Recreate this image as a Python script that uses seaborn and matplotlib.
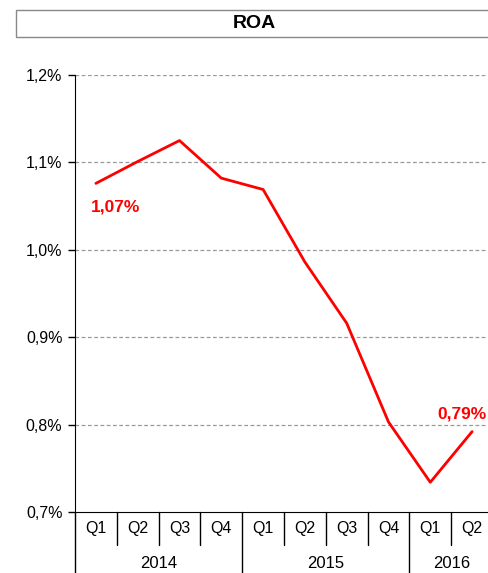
import numpy as np
import matplotlib
matplotlib.use("Agg")
import matplotlib.pyplot as plt
import matplotlib.transforms as mtrans
from matplotlib.patches import Rectangle
import seaborn as sns

# data
quarters = ["Q1", "Q2", "Q3", "Q4", "Q1", "Q2", "Q3", "Q4", "Q1", "Q2"]
years = ["2014", "2015", "2016"]
quarters_per_year = [4, 4, 2]
roa = [1.076, 1.101, 1.125, 1.082, 1.069, 0.986, 0.916, 0.803, 0.734, 0.792]
first_label = "1,07%"
last_label = "0,79%"
yticks = [0.7, 0.8, 0.9, 1.0, 1.1, 1.2]

sns.set_style("white", {"text.color": "black", "axes.labelcolor": "black",
                        "xtick.color": "black", "ytick.color": "black"})
plt.rcParams['font.family'] = ['Liberation Sans', 'DejaVu Sans']

fig = plt.figure(figsize=(4.89, 5.73), dpi=100)
W, H = 489, 573
ax = fig.add_axes([75 / W, 61 / H, 418 / W, 437 / H])

x = np.arange(len(roa))
sns.lineplot(x=x, y=roa, ax=ax, color="#ff0000", linewidth=2)

ax.set_xlim(-0.5, len(roa) - 0.5)
ax.set_ylim(0.7, 1.2)
ax.set_yticks(yticks)
ax.set_yticklabels([f"{v:.1f}%".replace(".", ",") for v in yticks], fontsize=11.5)
ax.tick_params(axis="y", length=5, width=1, direction="out", left=True, pad=4)
ax.set_xticks([])
for v in yticks[1:]:
    ax.axhline(v, color="#999999", linestyle=(0, (3, 2)), linewidth=0.9, zorder=0)

for side in ["top", "right"]:
    ax.spines[side].set_visible(False)
ax.spines["left"].set_color("black")
ax.spines["bottom"].set_color("black")
ax.spines["left"].set_bounds(0.7, 1.2)

# category axis with two levels
trans = mtrans.blended_transform_factory(ax.transData, ax.transAxes)
px = 1 / 437.0
for i, q in enumerate(quarters):
    ax.text(i, -16 * px, q, transform=trans, ha="center", va="center", fontsize=11.5)
ax.plot([-0.5, -0.5], [0, -70 * px], transform=trans, color="black", lw=1, clip_on=False)
bounds = np.cumsum([0] + quarters_per_year) - 0.5
for i in range(1, len(quarters)):
    pos = i - 0.5
    if pos in bounds:
        ax.plot([pos, pos], [0, -70 * px], transform=trans, color="black", lw=1, clip_on=False)
    else:
        ax.plot([pos, pos], [0, -33 * px], transform=trans, color="black", lw=1, clip_on=False)
for j, yr in enumerate(years):
    mid = (bounds[j] + bounds[j + 1]) / 2
    ax.text(mid, -51 * px, yr, transform=trans, ha="center", va="center", fontsize=12)

# value labels
ax.annotate(first_label, (x[0], roa[0]), xytext=(14, -17), textcoords="offset points",
            ha="center", va="center", color="#ff0000", fontsize=12.5, fontweight="bold")
ax.annotate(last_label, (x[-1], roa[-1]), xytext=(-7, 13), textcoords="offset points",
            ha="center", va="center", color="#ff0000", fontsize=12.5, fontweight="bold")

# title box
fig.patches.append(Rectangle((16 / W, 1 - 37 / H), 480 / W, 27 / H, transform=fig.transFigure,
                             facecolor="white", edgecolor="#888888", linewidth=1))
fig.text(254 / W, 1 - 23 / H, "ROA", ha="center", va="center", fontsize=14, fontweight="bold")

fig.savefig("out.png", dpi=100)
